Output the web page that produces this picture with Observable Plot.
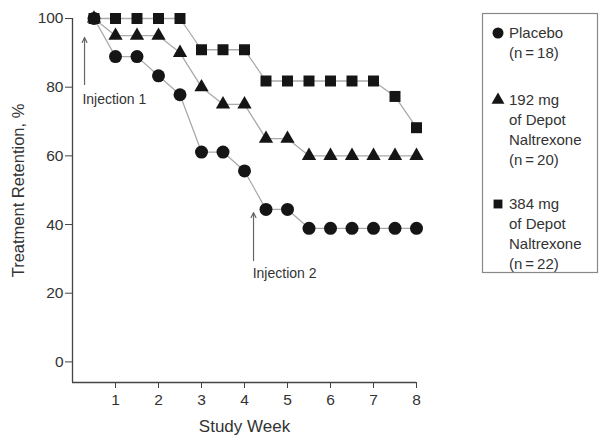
<!DOCTYPE html>
<html><head><meta charset="utf-8">
<script src="https://cdn.jsdelivr.net/npm/d3@7"></script>
<script src="https://cdn.jsdelivr.net/npm/@observablehq/plot@0.6"></script>
<style>
body{margin:0;background:#fff}
#chart svg{font-family:"Liberation Sans",Arial,sans-serif;overflow:visible}
</style>
</head><body><div id="chart"></div>
<script>
const weeks = [0.5,1,1.5,2,2.5,3,3.5,4,4.5,5,5.5,6,6.5,7,7.5,8];
const placebo = [100,88.9,88.9,83.3,77.8,61.1,61.1,55.6,44.4,44.4,38.9,38.9,38.9,38.9,38.9,38.9];
const mg192 = [100,95,95,95,90,80,75,75,65,65,60,60,60,60,60,60];
const mg384 = [100,100,100,100,100,90.9,90.9,90.9,81.8,81.8,81.8,81.8,81.8,81.8,77.3,68.2];
const seriesNames = ["Placebo","192 mg","384 mg"];
const legendLines = [["Placebo","(n\u2009=\u200918)"],["192 mg","of Depot","Naltrexone","(n\u2009=\u200920)"],["384 mg","of Depot","Naltrexone","(n\u2009=\u200922)"]];
const legendSymbols = ["circle","triangle","square"];
const xTicks = [1,2,3,4,5,6,7,8];
const yTicks = [0,20,40,60,80,100];
const xLabel = "Study Week";
const yLabel = "Treatment Retention, %";
const injections = [
  {label:"Injection 1", week:0.28, y1:80.8, y2:94.5, tx:0.23, ty:76.5},
  {label:"Injection 2", week:4.21, y1:29.5, y2:43.5, tx:4.19, ty:25.6}
];

const rows = s => weeks.map((w,i)=>({week:w, value:s[i]}));
const pl = rows(placebo), a = rows(mg192), b = rows(mg384);

const textColor = "#333";
const lineColor = "#aaa";
const plot = Plot.plot({
  width: 603, height: 435,
  marginLeft: 72, marginRight: 187, marginTop: 18, marginBottom: 53,
  style: {fontSize: "15px", color: textColor, background: "#fff"},
  x: {domain: [0, 8]},
  y: {domain: [-6, 100]},
  marks: [
    Plot.ruleX([0], {y1: -6, y2: 100, stroke: "#444", strokeWidth: 1.3}),
    Plot.ruleY([-6], {x1: 0, x2: 8, stroke: "#444", strokeWidth: 1.3}),
    Plot.axisY({ticks: yTicks, tickSize: 7, tickPadding: 2, label: null, stroke: "#444", fill: textColor, fontSize: 15.5}),
    Plot.axisX({ticks: xTicks, tickSize: 6, tickPadding: 5, label: null, stroke: "#444", fill: textColor, fontSize: 15.5}),
    Plot.text([yLabel], {frameAnchor: "left", textAnchor: "middle", lineAnchor: "middle", rotate: -90, dx: -54, dy: -10, fill: textColor, fontSize: 16.5}),
    Plot.text([xLabel], {frameAnchor: "bottom", textAnchor: "middle", lineAnchor: "middle", dy: 44, fill: textColor, fontSize: 17}),
    Plot.line(pl, {x: "week", y: "value", stroke: lineColor, strokeWidth: 1.3}),
    Plot.line(a, {x: "week", y: "value", stroke: lineColor, strokeWidth: 1.3}),
    Plot.line(b, {x: "week", y: "value", stroke: lineColor, strokeWidth: 1.3}),
    Plot.dot(pl, {x: "week", y: "value", symbol: "circle", r: 6.5, fill: "#151515"}),
    Plot.dot(b, {x: "week", y: "value", symbol: "square", r: 6.2, fill: "#151515"}),
    Plot.dot(a, {x: "week", y: "value", symbol: "triangle", r: 5.3, fill: "#151515"}),
    Plot.arrow(injections, {x: "week", y1: "y1", y2: "y2", stroke: "#666", strokeWidth: 1.2, headLength: 7, headAngle: 50}),
    Plot.text(injections, {x: "tx", y: "ty", text: "label", textAnchor: "start", fill: textColor, fontSize: 14})
  ]
});
document.getElementById("chart").appendChild(plot);

// legend box
const svg = d3.select(plot);
const lg = svg.append("g").attr("font-size", 15).attr("fill", textColor).attr("text-anchor", "start");
lg.append("rect").attr("x", 482.5).attr("y", 13.5).attr("width", 115).attr("height", 259)
  .attr("fill", "none").attr("stroke", "#888").attr("stroke-width", 1.2);
const groupY = [33, 100, 204];
const symMap = {circle: d3.symbolCircle, triangle: d3.symbolTriangle, square: d3.symbolSquare};
const symR = {circle: 5.5, triangle: 4.8, square: 5};
legendLines.forEach((lines, i) => {
  const s = legendSymbols[i];
  lg.append("path").attr("transform", `translate(498,${groupY[i]})`)
    .attr("d", d3.symbol(symMap[s], Math.PI * symR[s] ** 2)()).attr("fill", "#151515");
  lines.forEach((t, j) => {
    lg.append("text").attr("x", 509).attr("y", groupY[i] + j * 20).attr("dy", "0.36em").text(t);
  });
});
</script>
</body></html>
